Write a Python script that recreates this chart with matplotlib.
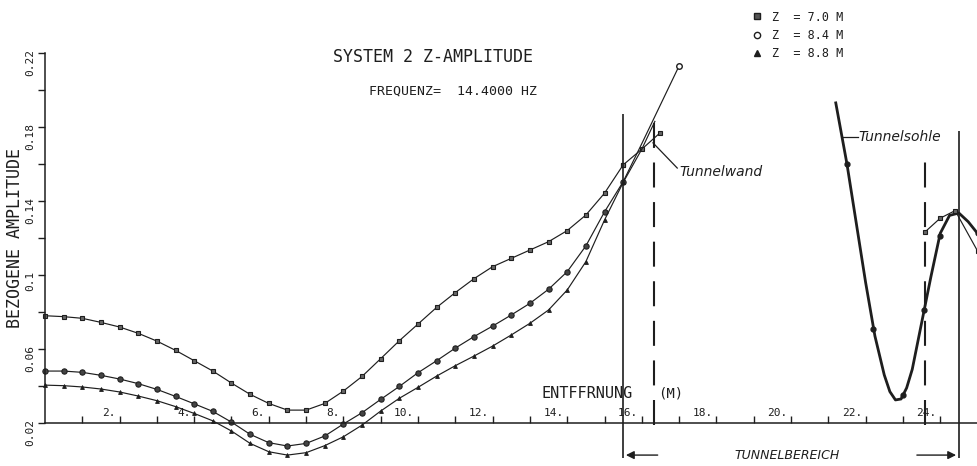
import matplotlib.pyplot as plt
from matplotlib.lines import Line2D

plt.rcParams['font.family'] = ['DejaVu Sans Mono']

# distance (m) and amplitude for the three depths
x_main = [0, 0.5, 1, 1.5, 2, 2.5, 3, 3.5, 4, 4.5, 5, 5.5, 6, 6.5, 7, 7.5, 8, 8.5,
          9, 9.5, 10, 10.5, 11, 11.5, 12, 12.5, 13, 13.5, 14, 14.5, 15, 15.5]
amp_z70 = [0.0780, 0.0775, 0.0766, 0.0744, 0.0719, 0.0685, 0.0643, 0.0593, 0.0537,
           0.0481, 0.0416, 0.0355, 0.0306, 0.0270, 0.0270, 0.0306, 0.0373, 0.0452,
           0.0548, 0.0645, 0.0735, 0.0825, 0.0905, 0.0980, 0.1045, 0.1090, 0.1135,
           0.1180, 0.1240, 0.1324, 0.1442, 0.1595]
amp_z84 = [0.0481, 0.0481, 0.0474, 0.0458, 0.0438, 0.0413, 0.0382, 0.0344, 0.0304,
           0.0263, 0.0205, 0.0139, 0.0094, 0.0076, 0.0090, 0.0130, 0.0195, 0.0256,
           0.0328, 0.0398, 0.0472, 0.0537, 0.0605, 0.0667, 0.0724, 0.0784, 0.0847,
           0.0923, 0.1018, 0.1157, 0.1341, 0.1504]
amp_z88 = [0.0405, 0.0402, 0.0395, 0.0384, 0.0368, 0.0346, 0.0321, 0.0289, 0.0252,
           0.0212, 0.0157, 0.0090, 0.0045, 0.0027, 0.0040, 0.0078, 0.0126, 0.0189,
           0.0265, 0.0334, 0.0393, 0.0454, 0.0510, 0.0562, 0.0616, 0.0676, 0.0739,
           0.0811, 0.0919, 0.1072, 0.1297, 0.1500]

# tails at the tunnel wall
tail_x70 = [15.5, 16.0, 16.5]
tail_z70 = [0.1595, 0.1680, 0.1770]
tail_x84 = [15.5, 16.0, 16.5, 17.0]
tail_z84 = [0.1504, 0.1710, 0.1920, 0.2130]
tail_x88 = [15.5, 16.0, 16.35]
tail_z88 = [0.1500, 0.1680, 0.1830]

# tunnel floor region
floor_x = [21.2, 21.5, 21.75, 22.0, 22.25, 22.5, 22.65, 22.8, 22.95, 23.1, 23.25,
           23.5, 23.75, 24.0, 24.25, 24.5, 24.75, 25.0]
floor_amp = [0.193, 0.160, 0.128, 0.096, 0.067, 0.046, 0.037, 0.0325, 0.033, 0.039,
             0.049, 0.074, 0.099, 0.1225, 0.1322, 0.1335, 0.1288, 0.1225]
floor_mark_x = [21.5, 22.2, 23.0, 23.57, 24.0, 25.0]
floor_mark_amp = [0.160, 0.071, 0.035, 0.081, 0.121, 0.1225]
floor70_x = [23.6, 24.0, 24.4, 25.0]
floor70_amp = [0.1234, 0.1307, 0.1348, 0.1130]

# tunnel boundary lines
wall_x = [15.5, 24.5]
wall_bottom = [0.001, 0.001]
wall_top = [0.187, 0.178]
dash_x = [16.33, 23.6]
dash_bottom = [0.019, 0.019]
dash_top = [0.186, 0.168]

y_major = [0.02, 0.06, 0.10, 0.14, 0.18, 0.22]
y_major_labels = ['0.02', '0.06', '0.1', '0.14', '0.18', '0.22']
y_minor = [0.04, 0.08, 0.12, 0.16, 0.20]
x_ticks = list(range(1, 26))
x_label_pos = [2, 4, 6, 8, 10, 12, 14, 16, 18, 20, 22, 24]

ink = '#1e1e1e'

fig = plt.figure(figsize=(9.78, 4.66), dpi=100)
ax = fig.add_axes([0, 0, 1, 1])
ax.set_xlim(-1.206, 25.013)
ax.set_ylim(-0.0032, 0.2486)

for s in ['top', 'right']:
    ax.spines[s].set_visible(False)
ax.spines['left'].set_position(('data', 0))
ax.spines['left'].set_bounds(0.02, 0.22)
ax.spines['bottom'].set_position(('data', 0.02))
ax.spines['bottom'].set_bounds(0, 25.013)
for s in ['left', 'bottom']:
    ax.spines[s].set_color(ink)
    ax.spines[s].set_linewidth(1.1)

ax.set_yticks(y_major, y_major_labels)
ax.set_yticks(y_minor, minor=True)
ax.tick_params(axis='y', which='both', direction='out', length=5, width=1,
               colors=ink, labelsize=8, labelrotation=90, pad=2)
ax.set_xticks(x_ticks)
ax.tick_params(axis='x', direction='in', length=5, width=1, colors=ink,
               labelbottom=False)
for xv in x_label_pos:
    ax.text(xv - 0.1, 0.0228, f'{xv}.', ha='right', va='bottom', fontsize=8, color=ink)

# curves
mk = dict(color=ink, lw=0.85)
sq = dict(marker='s', ms=3.4, mfc='#666666', mec=ink, mew=0.8)
ci = dict(marker='o', ms=3.8, mfc='#444444', mec=ink, mew=0.8)
tr = dict(marker='^', ms=2.8, mfc=ink, mec=ink, mew=0.6)
ax.plot(x_main, amp_z70, **sq, **mk)
ax.plot(x_main, amp_z84, **ci, **mk)
ax.plot(x_main, amp_z88, **tr, **mk)
ax.plot(tail_x70, tail_z70, **sq, **mk)
ax.plot(tail_x84, tail_z84, marker='o', ms=4, mfc='white', mec=ink, markevery=[3], **mk)
ax.plot(tail_x88, tail_z88, **mk)

ax.plot(floor_x, floor_amp, color=ink, lw=2.0)
ax.plot(floor_mark_x, floor_mark_amp, ls='none', marker='o', ms=3.5, mfc=ink, mec=ink)
ax.plot(floor70_x, floor70_amp, **sq, **mk)

# tunnel wall / floor markers
ax.vlines(wall_x, wall_bottom, wall_top, color=ink, lw=1.2)
ax.vlines(dash_x, dash_bottom, dash_top, color=ink, lw=1.5,
          linestyles=[(0, (12, 7))])

# tunnel range arrows
ax.annotate('', xy=(15.5, 0.0027), xytext=(16.5, 0.0027),
            arrowprops=dict(arrowstyle='-|>', color=ink, lw=1, mutation_scale=12))
ax.annotate('', xy=(24.5, 0.0027), xytext=(23.3, 0.0027),
            arrowprops=dict(arrowstyle='-|>', color=ink, lw=1, mutation_scale=12))
ax.text(19.9, 0.0027, 'TUNNELBEREICH', ha='center', va='center', fontsize=9,
        style='italic', family='DejaVu Sans', color=ink)

# annotations
ax.plot([16.3, 16.95], [0.1714, 0.1578], color=ink, lw=0.9)
ax.text(17.0, 0.1555, 'Tunnelwand', ha='left', va='center', fontsize=10,
        style='italic', family='DejaVu Sans', color=ink)
ax.plot([21.4, 21.8], [0.1746, 0.1746], color=ink, lw=0.9)
ax.text(21.82, 0.1746, 'Tunnelsohle', ha='left', va='center', fontsize=10,
        style='italic', family='DejaVu Sans', color=ink)

ax.text(13.32, 0.0362, 'ENTFFRNUNG', ha='left', va='center', fontsize=11, color=ink)
ax.text(16.43, 0.0362, '(M)', ha='left', va='center', fontsize=10, color=ink)

fig.text(0.443, 0.878, 'SYSTEM 2 Z-AMPLITUDE', ha='center', va='center',
         fontsize=12, color=ink)
fig.text(0.463, 0.804, 'FREQUENZ=  14.4000 HZ', ha='center', va='center',
         fontsize=9.5, color=ink)
fig.text(0.0153, 0.489, 'BEZOGENE AMPLITUDE', rotation=90, ha='center', va='center',
         fontsize=12, color=ink)

handles = [Line2D([], [], ls='none', marker='s', ms=5, mfc='#555555', mec=ink),
           Line2D([], [], ls='none', marker='o', ms=4.5, mfc='white', mec=ink),
           Line2D([], [], ls='none', marker='^', ms=4.5, mfc=ink, mec=ink)]
fig.legend(handles, ['Z  = 7.0 M', 'Z  = 8.4 M', 'Z  = 8.8 M'],
           loc='upper left', bbox_to_anchor=(0.757, 1.0), frameon=False,
           fontsize=8.5, handlelength=1, handletextpad=0.8, labelspacing=0.45,
           labelcolor=ink)

plt.savefig('out.png', dpi=100, facecolor='white')
